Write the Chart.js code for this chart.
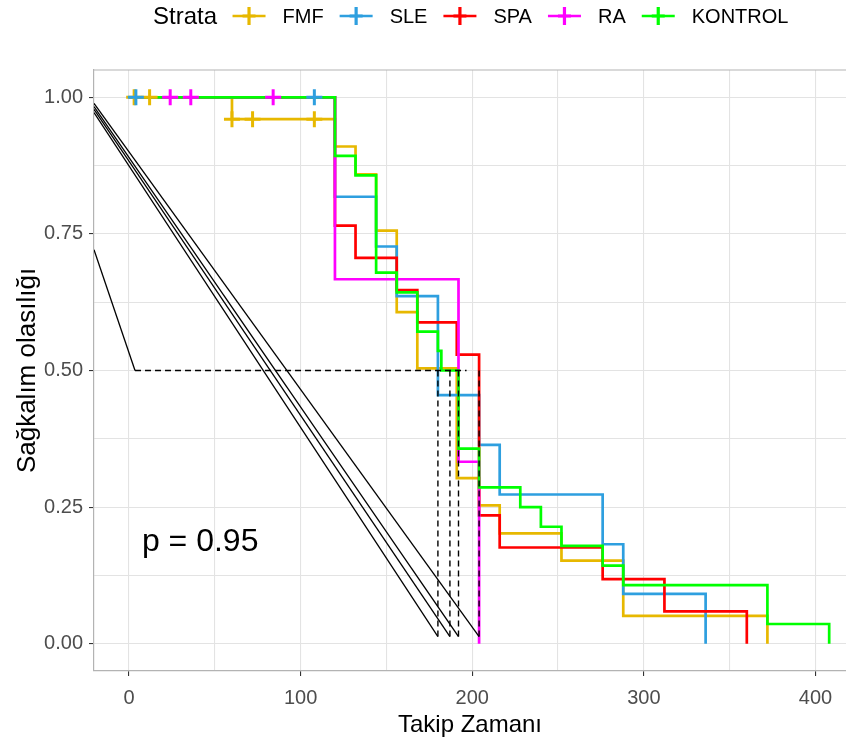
<!DOCTYPE html>
<html lang="tr">
<head>
  <meta charset="UTF-8" />
  <title>Sağkalım eğrileri</title>
  <style>
    body { margin: 0; background: #fff; }
    canvas { display: block; }
  </style>
  <script src="https://cdn.jsdelivr.net/npm/chart.js"></script>
</head>
<body>
  <canvas id="grafik" width="846" height="745"></canvas>

  <script>
    // Gruplar ve renkler
    const strata = ["FMF", "SLE", "SPA", "RA", "KONTROL"];
    const renkler = ["#E7B800", "#2E9FDF", "#FF0000", "#FF00FF", "#00FF00"];

    // Kaplan-Meier basamaklari (zaman, sagkalim)
    const fmfZaman = [0, 60, 120, 132, 144, 156, 168, 191, 204, 216, 252, 288, 372];
    const fmfSag   = [1, 0.96, 0.91, 0.859, 0.756, 0.607, 0.504, 0.303, 0.253, 0.202, 0.152, 0.051, 0];
    const sleZaman = [0, 120, 144, 156, 180, 204, 216, 276, 288, 336];
    const sleSag   = [1, 0.818, 0.727, 0.636, 0.455, 0.364, 0.273, 0.182, 0.091, 0];
    const spaZaman = [0, 120, 132, 156, 168, 191, 204, 216, 276, 312, 360];
    const spaSag   = [1, 0.765, 0.706, 0.647, 0.588, 0.529, 0.235, 0.176, 0.118, 0.059, 0];
    const raZaman  = [0, 120, 192, 204];
    const raSag    = [1, 0.667, 0.333, 0];
    const konZaman = [0, 120, 132, 144, 156, 168, 180, 182, 192, 204, 228, 240, 252, 276, 288, 372, 408];
    const konSag   = [1, 0.893, 0.857, 0.679, 0.643, 0.571, 0.536, 0.5, 0.357, 0.286, 0.25, 0.214, 0.179, 0.143, 0.107, 0.036, 0];

    // Sansur isaretleri
    const fmfSansurZaman = [3, 12, 60, 72, 108];
    const fmfSansurSag   = [1, 1, 0.96, 0.96, 0.96];
    const sleSansurZaman = [4, 108];
    const sleSansurSag   = [1, 1];
    const raSansurZaman  = [24, 36, 84];
    const raSansurSag    = [1, 1, 1];

    // Medyan cizgileri
    const medyanZaman = [180, 187, 192, 204];
    const caprazBasY  = [0.972, 0.978, 0.983, 0.989];
    const caprazSonY  = 0.013;
    const yatayBas = 3.5, yatayBitis = 196.7;
    const ekCizgi = [[-20.4, 0.721], [3.5, 0.5]];

    const pDegeri = "p = 0.95";
    const pX = 7.5, pY = 0.186;

    const xTicks = [0, 50, 100, 150, 200, 250, 300, 350, 400];
    const yTicks = [0, 0.125, 0.25, 0.375, 0.5, 0.625, 0.75, 0.875, 1];
    const xMin = -20.4, xMax = 417.8;

    const zamanlar = [fmfZaman, sleZaman, spaZaman, raZaman, konZaman];
    const sagkalim = [fmfSag, sleSag, spaSag, raSag, konSag];
    const sansurZ = [fmfSansurZaman, sleSansurZaman, [], raSansurZaman, []];
    const sansurS = [fmfSansurSag, sleSansurSag, [], raSansurSag, []];

    const eslestir = (xs, ys) => xs.map((x, i) => ({ x: x, y: ys[i] }));

    const datasets = [];
    strata.forEach((ad, i) => {
      datasets.push({
        label: ad,
        data: eslestir(zamanlar[i], sagkalim[i]),
        borderColor: renkler[i],
        borderWidth: 2.7,
        stepped: true,
        pointRadius: 0,
        fill: false,
        order: 10 - i
      });
      datasets.push({
        label: ad + " sansur",
        data: eslestir(sansurZ[i], sansurS[i]),
        showLine: false,
        pointStyle: "cross",
        pointRadius: 8,
        pointBorderWidth: 3,
        pointBorderColor: renkler[i],
        borderColor: renkler[i],
        order: 5 - i
      });
    });

    const siyahCizgi = (veri, kesikli) => ({
      data: veri,
      borderColor: "#000",
      borderWidth: kesikli ? 1.4 : 1.3,
      borderDash: kesikli ? [6, 4] : [],
      pointRadius: 0,
      fill: false,
      order: 0
    });

    datasets.push(siyahCizgi([{ x: yatayBas, y: 0.5 }, { x: yatayBitis, y: 0.5 }], true));
    medyanZaman.forEach((t, i) => {
      datasets.push(siyahCizgi([{ x: t, y: 0.5 }, { x: t, y: caprazSonY }], true));
      datasets.push(siyahCizgi([{ x: xMin, y: caprazBasY[i] }, { x: t, y: caprazSonY }], false));
    });
    datasets.push(siyahCizgi(ekCizgi.map(p => ({ x: p[0], y: p[1] })), false));

    // Ust kenar, p degeri ve lejant
    const ekler = {
      id: "ekler",
      afterDraw(chart) {
        const ctx = chart.ctx;
        const a = chart.chartArea;
        ctx.save();
        ctx.strokeStyle = "#b3b3b3";
        ctx.lineWidth = 1.2;
        ctx.beginPath();
        ctx.moveTo(a.left, a.top);
        ctx.lineTo(a.right, a.top);
        ctx.stroke();

        ctx.fillStyle = "#000";
        ctx.font = "32px 'Liberation Sans', Arial, sans-serif";
        ctx.textBaseline = "middle";
        ctx.textAlign = "left";
        ctx.fillText(pDegeri, chart.scales.x.getPixelForValue(pX), chart.scales.y.getPixelForValue(pY));

        // lejant
        let x = 153;
        const y = 17;
        ctx.font = "24px 'Liberation Sans', Arial, sans-serif";
        ctx.fillText("Strata", x, y);
        x += ctx.measureText("Strata").width + 15.5;
        ctx.font = "20px 'Liberation Sans', Arial, sans-serif";
        strata.forEach((ad, i) => {
          ctx.strokeStyle = renkler[i];
          ctx.lineWidth = 2.7;
          ctx.beginPath();
          ctx.moveTo(x, y - 1);
          ctx.lineTo(x + 33, y - 1);
          ctx.stroke();
          ctx.lineWidth = 3.2;
          ctx.beginPath();
          ctx.moveTo(x + 10, y - 1);
          ctx.lineTo(x + 23, y - 1);
          ctx.moveTo(x + 16.5, y - 10);
          ctx.lineTo(x + 16.5, y + 8);
          ctx.stroke();
          x += 33 + 17;
          ctx.fillStyle = "#000";
          ctx.fillText(ad, x, y);
          x += ctx.measureText(ad).width + 16;
        });
        ctx.restore();
      }
    };

    new Chart(document.getElementById("grafik"), {
      type: "line",
      data: { datasets: datasets },
      plugins: [ekler],
      options: {
        responsive: false,
        animation: false,
        devicePixelRatio: 1,
        layout: { autoPadding: false, padding: { top: 70, left: 0, right: 0, bottom: 0 } },
        plugins: {
          legend: { display: false },
          tooltip: { enabled: false }
        },
        scales: {
          x: {
            type: "linear",
            min: xMin,
            max: xMax,
            afterBuildTicks: s => { s.ticks = xTicks.map(v => ({ value: v })); },
            afterFit: s => { s.height = 74; },
            grid: {
              color: "#e3e3e3",
              lineWidth: 1.1,
              tickLength: 5,
              tickColor: c => (c.tick && c.tick.value % 100 === 0) ? "#333" : "rgba(0,0,0,0)"
            },
            border: { color: "#b3b3b3", width: 1.2 },
            ticks: {
              autoSkip: false,
              maxRotation: 0,
              padding: 10,
              color: "#4d4d4d",
              font: { family: "'Liberation Sans', Arial, sans-serif", size: 20 },
              callback: v => (v % 100 === 0 ? String(v) : "")
            },
            title: {
              display: true,
              text: "Takip Zamanı",
              color: "#000",
              padding: { top: 0, bottom: 5 },
              font: { family: "'Liberation Sans', Arial, sans-serif", size: 24 }
            }
          },
          y: {
            type: "linear",
            min: -0.05,
            max: 1.05,
            afterBuildTicks: s => { s.ticks = yTicks.map(v => ({ value: v })); },
            afterFit: s => { s.width = 94; },
            grid: {
              color: "#e3e3e3",
              lineWidth: 1.1,
              tickLength: 5,
              tickColor: c => (c.tick && Math.abs(c.tick.value * 4 - Math.round(c.tick.value * 4)) < 1e-9) ? "#333" : "rgba(0,0,0,0)"
            },
            border: { color: "#b3b3b3", width: 1.2 },
            ticks: {
              autoSkip: false,
              padding: 6,
              color: "#4d4d4d",
              font: { family: "'Liberation Sans', Arial, sans-serif", size: 20 },
              callback: v => (Math.abs(v * 4 - Math.round(v * 4)) < 1e-9 ? v.toFixed(2) : "")
            },
            title: {
              display: true,
              text: "Sağkalım olasılığı",
              color: "#000",
              padding: { top: 12, bottom: 0 },
              font: { family: "'Liberation Sans', Arial, sans-serif", size: 26 }
            }
          }
        }
      }
    });
  </script>
</body>
</html>
